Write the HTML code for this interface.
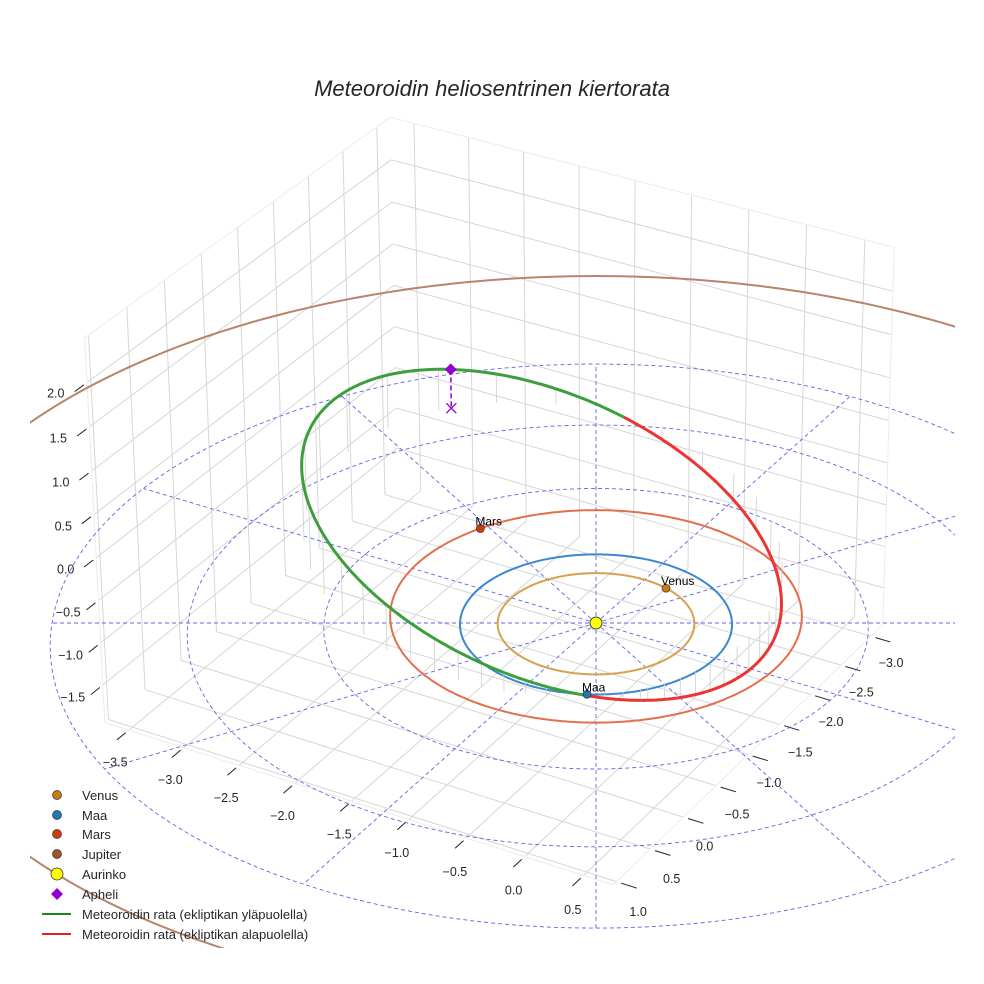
<!DOCTYPE html>
<html><head><meta charset="utf-8"><style>
html,body{margin:0;padding:0;background:#fff;}
svg{display:block;font-family:"Liberation Sans",sans-serif;}
</style></head><body>
<svg id="chart" width="984" height="984" viewBox="0 0 984 984" xmlns="http://www.w3.org/2000/svg">
<defs><clipPath id="clip"><rect x="30" y="30" width="925" height="918"/></clipPath></defs>
<rect width="984" height="984" fill="#fff"/>
<g id="grid"></g>
<g id="ticks"></g>
<g id="ref" clip-path="url(#clip)"></g>
<g id="orbits" clip-path="url(#clip)"></g>
<g id="marks"></g>
<text x="492" y="96" text-anchor="middle" font-size="22" font-style="italic" fill="#262626">Meteoroidin heliosentrinen kiertorata</text>
<g id="legend" font-size="13" fill="#262626">
<g><circle cx="57" cy="795" r="4.5" fill="#c97b12" stroke="#333" stroke-width="0.7"/><text x="82" y="800">Venus</text></g>
<g><circle cx="57" cy="815" r="4.5" fill="#1f77b4" stroke="#333" stroke-width="0.7"/><text x="82" y="820">Maa</text></g>
<g><circle cx="57" cy="834" r="4.5" fill="#cc3d0a" stroke="#333" stroke-width="0.7"/><text x="82" y="839">Mars</text></g>
<g><circle cx="57" cy="854" r="4.5" fill="#a0522d" stroke="#333" stroke-width="0.7"/><text x="82" y="859">Jupiter</text></g>
<g><circle cx="57" cy="874" r="6" fill="#ffff00" stroke="#333" stroke-width="0.8"/><text x="82" y="879">Aurinko</text></g>
<g><polygon points="57,888 63,894 57,900 51,894" fill="#9400d3"/><text x="82" y="899">Apheli</text></g>
<g><line x1="42" y1="914" x2="71" y2="914" stroke="#1a8a1a" stroke-width="2"/><text x="82" y="919">Meteoroidin rata (ekliptikan yläpuolella)</text></g>
<g><line x1="42" y1="934" x2="71" y2="934" stroke="#e32020" stroke-width="2"/><text x="82" y="939">Meteoroidin rata (ekliptikan alapuolella)</text></g>
</g>
</svg>
<script>
// ---- data ----
const xTicks = [-3.5,-3.0,-2.5,-2.0,-1.5,-1.0,-0.5,0.0,0.5];
const yTicks = [-3.0,-2.5,-2.0,-1.5,-1.0,-0.5,0.0,0.5,1.0];
const zTicks = [-1.5,-1.0,-0.5,0.0,0.5,1.0,1.5,2.0];
const xRange = [-3.72, 0.75];
const yRange = [-3.2, 1.05];
const zRange = [-1.95, 2.5];
const refRings = [1,2,3,4];
const refAngles = [0,30,60,90,120,150,180,210,240,270,300,330];
const planetNames = ["Venus","Maa","Mars","Jupiter"];
const planetA = [0.723, 1.0, 1.524, 5.2];
const planetE = [0.0, 0.0, 0.0934, 0.06];
const planetPeri = [0, 0, 60, 60];
const planetAngle = [-74, 63.7, 207.8, 0];
const planetShown = [true, true, true, false];
const meteorElements = [2.24, 0.56, 19, 63.7, 336]; // a, e, i, Omega, omega

// ---- projection ----
const S=136, PHI=30*Math.PI/180, SE=0.515, CE=0.857, SZ=101.6, DD=5700, CX=596, CY=623;
function P(x,y,z){
  const r = S*(x*Math.cos(PHI) - y*Math.sin(PHI));
  const gd = S*(x*Math.sin(PHI) + y*Math.cos(PHI));
  const up = -gd*SE + SZ*z*CE;
  const tw = gd*CE + SZ*z*SE;
  const k = DD/(DD - tw);
  return [CX + r*k, CY - up*k];
}
const NS="http://www.w3.org/2000/svg";
function el(tag, attrs, parent){
  const e=document.createElementNS(NS,tag);
  for(const a in attrs) e.setAttribute(a, attrs[a]);
  parent.appendChild(e); return e;
}
function line3(a,b,style,parent,name){
  const p=P(...a), q=P(...b);
  const l=el('line',{x1:p[0].toFixed(1),y1:p[1].toFixed(1),x2:q[0].toFixed(1),y2:q[1].toFixed(1)},parent);
  for(const s in style) l.setAttribute(s, style[s]);
  
  
  return l;
}
function path3(pts,style,parent,name){
  const d=pts.map((p,i)=>{const q=P(...p);return (i?'L':'M')+q[0].toFixed(1)+' '+q[1].toFixed(1);}).join('');
  const e=el('path',{d:d,fill:'none'},parent);
  for(const s in style) e.setAttribute(s, style[s]);
  
  
  return e;
}
const [x0,x1]=xRange,[y0,y1]=yRange,[z0,z1]=zRange;
const grid=document.getElementById('grid');
const gs={stroke:'#d6d6d6','stroke-width':'1'};
xTicks.forEach(t=>line3([t,y0,z0],[t,y1,z0],gs,grid,'floor-grid-x'));
yTicks.forEach(t=>line3([x0,t,z0],[x1,t,z0],gs,grid,'floor-grid-y'));
yTicks.forEach(t=>line3([x0,t,z0],[x0,t,z1],gs,grid,'left-wall-grid-y'));
zTicks.forEach(t=>line3([x0,y0,t],[x0,y1,t],gs,grid,'left-wall-grid-z'));
xTicks.forEach(t=>line3([t,y0,z0],[t,y0,z1],gs,grid,'back-wall-grid-x'));
zTicks.forEach(t=>line3([x0,y0,t],[x1,y0,t],gs,grid,'back-wall-grid-z'));
const es={stroke:'#ececec','stroke-width':'1'};
[[[x0,y1,z0],[x1,y1,z0]],[[x1,y1,z0],[x1,y0,z0]],[[x0,y1,z0],[x0,y1,z1]],[[x0,y1,z1],[x0,y0,z1]],[[x0,y0,z1],[x1,y0,z1]],[[x1,y0,z1],[x1,y0,z0]]]
  .forEach(s=>line3(s[0],s[1],es,grid,'pane-edge'));
const tk=document.getElementById('ticks');
const ts={stroke:'#222','stroke-width':'1'};
function label(pt,dx,dy,txt,name){
  const q=P(...pt);
  const t=el('text',{x:(q[0]+dx).toFixed(1),y:(q[1]+4+dy).toFixed(1),'text-anchor':'middle','font-size':'12.5',fill:'#262626'},tk);
  t.textContent=txt.replace('-','\u2212');
  
  
}
xTicks.forEach(t=>{line3([t,y1+0.04,z0],[t,y1+0.16,z0],ts,tk,'x-tick');label([t+0.12,y1+0.36,z0],0,6,t.toFixed(1),'x-tick-label');});
yTicks.forEach(t=>{line3([x1+0.04,t,z0],[x1+0.17,t,z0],ts,tk,'y-tick');label([x1+0.45,t+0.12,z0],-24,5,t.toFixed(1),'y-tick-label');});
zTicks.forEach(t=>{line3([x0,y1+0.04,t],[x0,y1+0.16,t],ts,tk,'z-tick');label([x0-0.05,y1+0.42,t],7,-11,t.toFixed(1),'z-tick-label');});
const ref=document.getElementById('ref');
const ds={stroke:'#6464e0','stroke-width':'0.9','stroke-dasharray':'4,3'};
const rmax=refRings[refRings.length-1];
refRings.forEach(r=>{const pts=[];for(let i=0;i<=200;i++){const a=i/200*2*Math.PI;pts.push([r*Math.cos(a),r*Math.sin(a),0]);}path3(pts,ds,ref,'reference-ring');});
refAngles.forEach(a=>{const t=a*Math.PI/180;line3([0,0,0],[rmax*Math.cos(t),rmax*Math.sin(t),0],ds,ref,'reference-ray');});
const orb=document.getElementById('orbits');
const oc=['#d6a24e','#3a88d0','#e2704c','#b8846a'];
function conicPt(a,e,peri,ang){const p=a*(1-e*e);const nu=(ang-peri)*Math.PI/180;const r=p/(1+e*Math.cos(nu));const t=ang*Math.PI/180;return [r*Math.cos(t),r*Math.sin(t),0];}
planetA.forEach((a,i)=>{const pts=[];for(let j=0;j<=360;j++)pts.push(conicPt(a,planetE[i],planetPeri[i],j));path3(pts,{stroke:oc[i],'stroke-width':'2'},orb,'orbit-'+planetNames[i].toLowerCase());});
const [ma,me,mi,mO,mw]=meteorElements;
const I=mi*Math.PI/180,O=mO*Math.PI/180,W=mw*Math.PI/180,pp=ma*(1-me*me);
function mpt(nu){const r=pp/(1+me*Math.cos(nu));const u=nu+W;
  return [r*(Math.cos(O)*Math.cos(u)-Math.sin(O)*Math.sin(u)*Math.cos(I)),r*(Math.sin(O)*Math.cos(u)+Math.cos(O)*Math.sin(u)*Math.cos(I)),r*Math.sin(u)*Math.sin(I)];}
const N=400, mp=[];for(let j=0;j<=N;j++)mp.push(mpt(j/N*2*Math.PI));
for(let j=0;j<N;j+=9){const p=mp[j];line3(p,[p[0],p[1],0],{stroke:'#cfcfcf','stroke-width':'0.8'},orb,'drop-line');}
let seg=[mp[0]],above=mp[0][2]>=0;
function flush(){path3(seg,{stroke:above?'#3d9e3d':'#ee3333','stroke-width':'3','stroke-linejoin':'round'},orb,above?'meteoroid-orbit-above':'meteoroid-orbit-below');}
for(let j=1;j<=N;j++){const a=mp[j][2]>=0;seg.push(mp[j]);if(a!==above){flush();seg=[mp[j]];above=a;}}
flush();
const mk=document.getElementById('marks');
const mc=['#c97b12','#1f77b4','#cc3d0a','#a0522d'];
planetA.forEach((a,i)=>{if(!planetShown[i])return;const q=P(...conicPt(a,planetE[i],planetPeri[i],planetAngle[i]));
  const c=el('circle',{cx:q[0].toFixed(1),cy:q[1].toFixed(1),r:'4',fill:mc[i],stroke:'#333','stroke-width':'0.7'},mk);
  
  
  const t=el('text',{x:(q[0]-5).toFixed(1),y:(q[1]-3).toFixed(1),'font-size':'12',fill:'#000'},mk);t.textContent=planetNames[i];
  
  });
const sq=P(0,0,0);
const sun=el('circle',{cx:sq[0],cy:sq[1],r:'6',fill:'#ffff00',stroke:'#444','stroke-width':'1'},mk);


const ap=mpt(Math.PI), aq=P(...ap), ab=P(ap[0],ap[1],0);
const dl=el('line',{x1:aq[0],y1:aq[1],x2:ab[0],y2:ab[1],stroke:'#9400d3','stroke-width':'1.5','stroke-dasharray':'5,3'},mk);


const xm=el('path',{d:`M${ab[0]-5} ${ab[1]-5}L${ab[0]+5} ${ab[1]+5}M${ab[0]-5} ${ab[1]+5}L${ab[0]+5} ${ab[1]-5}`,stroke:'#9400d3','stroke-width':'1.3'},mk);


const dm=el('polygon',{points:`${aq[0]},${aq[1]-6} ${aq[0]+6},${aq[1]} ${aq[0]},${aq[1]+6} ${aq[0]-6},${aq[1]}`,fill:'#9400d3'},mk);


</script>
</body></html>
